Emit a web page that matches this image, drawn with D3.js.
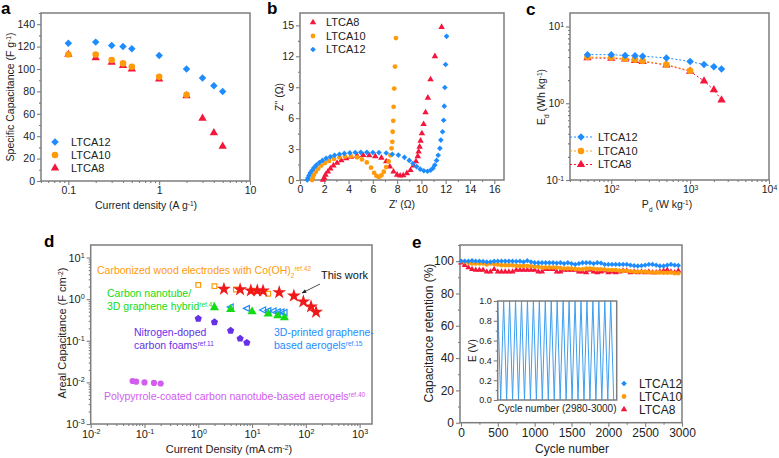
<!DOCTYPE html>
<html><head><meta charset="utf-8">
<script src="https://cdn.jsdelivr.net/npm/d3@7"></script>
<style>
body{margin:0;background:#fff;}
svg{font-family:"Liberation Sans",Arial,sans-serif;}
</style></head><body>
<div id="fig"></div>
<script>
// ---- panel a: specific capacitance vs current density
const aCurrent = [0.1, 0.2, 0.3, 0.4, 0.5, 1, 2, 3, 4, 5];
const aLTCA12 = [123, 124, 121, 120, 118, 112, 100, 92, 85, 80];
const aCurrent10 = [0.1, 0.2, 0.3, 0.4, 0.5, 1, 2];
const aLTCA10 = [113, 113, 108, 105, 102, 93, 77];
const aLTCA8 = [113, 110, 106, 103, 100, 91, 76, 56, 43, 31];

// ---- panel b: Nyquist plots
const bRe12 = [0.6,0.65,0.75,0.85,1.0,1.15,1.35,1.6,1.85,2.15,2.5,2.85,3.25,3.65,4.1,4.55,5.0,5.5,6.0,6.5,7.1,7.6,8.1,8.6,9.0,9.3,9.6,9.9,10.2,10.5,10.75,10.95,11.1,11.25,11.38,11.52,11.6,11.74,11.83,11.88,11.93,11.99,12.07];
const bIm12 = [0,0.2,0.45,0.7,0.95,1.2,1.45,1.7,1.9,2.1,2.25,2.4,2.5,2.58,2.63,2.67,2.68,2.68,2.67,2.66,2.62,2.5,2.42,2.2,1.9,1.6,1.3,1.05,0.9,0.85,0.95,1.15,1.45,1.9,2.4,3.07,3.87,4.68,5.8,7.16,8.97,11.2,13.94];
const bRe10 = [1.0,1.05,1.15,1.3,1.5,1.75,2.05,2.4,2.8,3.25,3.7,4.2,4.7,5.1,5.5,5.85,6.1,6.3,6.5,6.7,6.9,7.1,7.3,7.45,7.54,7.6,7.63,7.68,7.71,7.76,7.82,7.9];
const bIm10 = [0,0.2,0.5,0.8,1.1,1.4,1.65,1.85,2.05,2.2,2.28,2.3,2.2,2.0,1.7,1.2,0.7,0.4,0.3,0.45,0.8,1.25,1.8,2.4,3.07,3.7,4.68,5.74,7.1,8.87,11.0,13.77];
const bRe8 = [1.9,2.0,2.1,2.3,2.5,2.75,3.05,3.4,3.8,4.2,4.7,5.2,5.7,6.2,6.7,7.1,7.4,7.7,8.0,8.25,8.5,8.8,9.1,9.35,9.55,9.7,9.77,9.85,9.93,10.04,10.18,10.34,10.53,10.75,11.11,11.66];
const bIm8 = [0,0.2,0.5,0.8,1.1,1.4,1.65,1.9,2.1,2.25,2.35,2.4,2.38,2.3,2.15,1.8,1.3,0.8,0.5,0.42,0.45,0.65,0.95,1.4,1.8,2.3,2.74,3.22,3.8,4.52,5.42,6.55,7.97,9.75,12.0,14.84];

// ---- panel c: Ragone plot
const cPower = [50, 100, 150, 200, 250, 500, 1000, 1500, 2000, 2500];
const cPower10 = [50, 100, 150, 200, 250, 500, 1000];
const cLTCA12 = [4.3, 4.3, 4.2, 4.15, 4.1, 3.9, 3.5, 3.2, 3.0, 2.8];
const cLTCA10 = [4.0, 3.95, 3.8, 3.7, 3.55, 3.2, 2.65];
const cLTCA8 = [3.9, 3.85, 3.75, 3.6, 3.5, 3.15, 2.6, 1.95, 1.5, 1.1];

// ---- panel d: areal capacitance comparison
const dWorkX = [3, 6, 9.5, 12.5, 16, 32, 60, 90, 125, 155];
const dWorkY = [1.75, 1.7, 1.6, 1.6, 1.58, 1.45, 1.2, 0.87, 0.66, 0.49];
const dWoodX = [1, 2, 5, 10, 20];
const dWoodY = [2.2, 2.05, 1.7, 1.6, 1.35];
const dCntX = [2, 4, 10, 20, 30, 40];
const dCntY = [0.63, 0.57, 0.5, 0.44, 0.4, 0.36];
const dPrintX = [4, 8, 16, 20, 25, 30, 35, 40];
const dPrintY = [0.65, 0.6, 0.55, 0.53, 0.52, 0.5, 0.49, 0.48];
const dNdopX = [1, 2, 4, 6, 8];
const dNdopY = [0.34, 0.28, 0.175, 0.113, 0.09];
const dPpyX = [0.06, 0.07, 0.1, 0.15, 0.2];
const dPpyY = [0.0108, 0.0104, 0.01, 0.0097, 0.0094];

// ---- panel e: cycling stability
const eCycle = [0,50,100,150,200,250,300,350,400,450,500,550,600,650,700,750,800,850,900,950,
  1000,1050,1100,1150,1200,1250,1300,1350,1400,1450,1500,1550,1600,1650,1700,1750,1800,1850,1900,1950,
  2000,2050,2100,2150,2200,2250,2300,2350,2400,2450,2500,2550,2600,2650,2700,2750,2800,2850,2900,2950];
const eLTCA12 = [100,100,100,100.3,100,100,99.8,99.5,99.5,100, 100,100,100,100,100,99.8,100,99.5,100.3,99.5,
  99,99,99,99,99,99,98.8,99,98.5,99, 98.5,98,98.5,99,99,99,98.5,99,98.8,98,
  98,98,98,98,98,98,97.5,97.2,97,97.2, 97.5,98,98,97.5,97,97,97.5,98,97.5,97.3];
const eLTCA10 = [100,99.5,99,98.5,98.5,98.5,98.5,98,98.5,98.3, 98,97.5,97.5,97.5,97.5,97.2,97,97,97,96.8,
  96.5,96.5,96,96,96,96,96,95.8,95.5,95.5, 95.5,95.2,95,95,95.5,95.5,95.3,95,95,94.8,
  94.5,94.5,94.5,94,94,94,93.8,93.5,93.5,93.5, 93.5,93.2,93,93,93,92.8,92.8,93,92.5,92.5];
const eLTCA8 = [99,97.5,96,95,94.5,94.5,94.5,93.5,93.5,95, 93.5,93.5,93.5,93.5,93.5,94.5,94.5,94.5,94.5,94.5,
  94.5,93.5,93.5,95,95,95,93.5,93.5,94.5,94.5, 94.5,94.5,93.5,93.5,93,94.5,93.5,93,93.5,94,
  93,93.5,93,93.5,94,94,93,93.5,93,93.5, 93,93.5,93,93,93.5,94,94.5,93.5,93,94];
// inset: galvanostatic charge/discharge over cycles 2980-3000
const insetT = [2980,2980.5,2981,2981.5,2982,2982.5,2983,2983.5,2984,2984.5,2985,2985.5,2986,2986.5,2987,2987.5,
  2988,2988.5,2989,2989.5,2990,2990.5,2991,2991.5,2992,2992.5,2993,2993.5,2994,2994.5,2995,2995.5,
  2996,2996.5,2997,2997.5,2998,2998.5,2999,2999.5];
const insetE = [1,0,1,0,1,0,1,0,1,0,1,0,1,0,1,0,1,0,1,0,1,0,1,0,1,0,1,0,1,0,1,0,1,0,1,0,1,0,1,0];

const cBlue = "#1e8cff", cOrange = "#ff9a0a", cRed = "#f5163c",
      cGreen = "#14dc14", cPurple = "#6630e8", cMagenta = "#d35cf0", cFrame = "#7d7d7d";

const svg = d3.select("#fig").append("svg").attr("width", 779).attr("height", 458);

// symbols
const symDiamond = {draw(c, s) { const r = Math.sqrt(s / 2); c.moveTo(0, -r); c.lineTo(r, 0); c.lineTo(0, r); c.lineTo(-r, 0); c.closePath(); }};
const symTriLeft = {draw(c, s) { const r = Math.sqrt(s / 1.2); c.moveTo(-r * 0.8, 0); c.lineTo(r * 0.6, -r * 0.7); c.lineTo(r * 0.6, r * 0.7); c.closePath(); }};
const symPent = {draw(c, s) {
  const r = Math.sqrt(s / 2.38);
  for (let i = 0; i < 5; i++) {
    const a = -Math.PI / 2 + i * 2 * Math.PI / 5;
    if (i) c.lineTo(r * Math.cos(a), r * Math.sin(a)); else c.moveTo(r * Math.cos(a), r * Math.sin(a));
  }
  c.closePath();
}};

function rich(t, parts, fs) {
  parts.forEach(p => {
    const s = t.append("tspan").text(p[0]);
    if (p[1] === "sup") s.attr("baseline-shift", "super").attr("font-size", fs * 0.62);
    if (p[1] === "sub") s.attr("baseline-shift", "sub").attr("font-size", fs * 0.62);
  });
  return t;
}

function label(x, y, parts, fs, opts) {
  opts = opts || {};
  const t = svg.append("text").attr("x", x).attr("y", y).attr("font-size", fs)
    .attr("fill", opts.fill || "#222").attr("text-anchor", opts.anchor || "start");
  if (opts.rotate) t.attr("transform", `rotate(-90,${x},${y})`);
  if (opts.bold) t.attr("font-weight", "bold");
  return rich(t, parts, fs);
}

function axis(orient, scale, pos, major, minor, fs, fmt) {
  const mk = orient === "b" ? d3.axisBottom : d3.axisLeft;
  const tr = orient === "b" ? `translate(0,${pos})` : `translate(${pos},0)`;
  const gm = svg.append("g").attr("transform", tr).call(mk(scale).tickValues(minor).tickSize(2).tickFormat(""));
  const gM = svg.append("g").attr("transform", tr).call(mk(scale).tickValues(major).tickSize(4).tickPadding(2).tickFormat(""));
  [gm, gM].forEach(a => {
    a.select(".domain").remove();
    a.selectAll("line").attr("stroke", cFrame).attr("stroke-width", 1.1);
  });
  gM.selectAll(".tick text").each(function(d) {
    const t = d3.select(this).attr("font-size", fs).attr("fill", "#222")
      .attr("font-family", '"Liberation Sans",Arial,sans-serif');
    fmt(t, d);
  });
}
const plain = (t, d) => t.text(d);
const logFmt = fs => (t, d) => {
  t.text("10");
  t.append("tspan").attr("baseline-shift", "super").attr("font-size", fs * 0.65).text(Math.round(Math.log10(d)));
};
function box(x0, x1, y0, y1) {
  svg.append("rect").attr("x", x0).attr("y", y0).attr("width", x1 - x0).attr("height", y1 - y0)
    .attr("fill", "none").attr("stroke", cFrame).attr("stroke-width", 1.5);
}
function pts(xs, ys, xv, yv, sym, size, fill, stroke) {
  svg.append("g").selectAll("path").data(xv.map((v, i) => [v, yv[i]])).join("path")
    .attr("transform", d => `translate(${xs(d[0])},${ys(d[1])})`)
    .attr("d", d3.symbol(sym, size)())
    .attr("fill", fill).attr("stroke", stroke || "none").attr("stroke-width", 1.2);
}
function legendItem(x, y, tx, text, sym, size, col, fs, line) {
  if (line) svg.append("line").attr("x1", line[0]).attr("x2", line[1]).attr("y1", y).attr("y2", y)
    .attr("stroke", col).attr("stroke-width", 1).attr("stroke-dasharray", "2,2");
  svg.append("path").attr("transform", `translate(${x},${y})`).attr("d", d3.symbol(sym, size)()).attr("fill", col);
  svg.append("text").attr("x", tx).attr("y", y + fs * 0.36).attr("font-size", fs).attr("fill", "#222").text(text);
}
const range = (a, b, s) => d3.range(a, b + s / 2, s);

// ================= panel a
{
  const x = d3.scaleLog().domain([0.05, 10]).range([41, 250]);
  const y = d3.scaleLinear().domain([0, 150]).range([181, 13]);
  const minor = [0.05,0.06,0.07,0.08,0.09,0.2,0.3,0.4,0.5,0.6,0.7,0.8,0.9,2,3,4,5,6,7,8,9];
  axis("b", x, 181, [0.1, 1, 10], minor, 10.5, plain);
  axis("l", y, 41, range(0, 140, 20), range(10, 150, 20), 10.5, plain);
  box(41, 250, 13, 181);
  pts(x, y, aCurrent, aLTCA8, d3.symbolTriangle, 30, cRed);
  pts(x, y, aCurrent10, aLTCA10, d3.symbolCircle, 34, cOrange);
  pts(x, y, aCurrent, aLTCA12, symDiamond, 28, cBlue);
  legendItem(55, 142, 71, "LTCA12", symDiamond, 28, cBlue, 11);
  legendItem(55, 155, 71, "LTCA10", d3.symbolCircle, 34, cOrange, 11);
  legendItem(55, 168, 71, "LTCA8", d3.symbolTriangle, 30, cRed, 11);
  label(146, 209, [["Current density (A g"], ["-1", "sup"], [")"]], 10.5, {anchor: "middle"});
  label(14, 97, [["Specific Capacitance (F g"], ["-1", "sup"], [")"]], 10.5, {anchor: "middle", rotate: true});
  label(1, 14, [["a"]], 17, {bold: true, fill: "#000"});
}

// ================= panel b
{
  const x = d3.scaleLinear().domain([0, 16.8]).range([300, 504]);
  const y = d3.scaleLinear().domain([0, 16.2]).range([180, 13]);
  axis("b", x, 180, range(0, 16, 2), range(1, 15, 2), 10.5, plain);
  axis("l", y, 300, range(0, 15, 3), range(1.5, 15, 3), 10.5, plain);
  box(300, 504, 13, 180);
  pts(x, y, bRe8, bIm8, d3.symbolTriangle, 18, cRed);
  pts(x, y, bRe10, bIm10, d3.symbolCircle, 18, cOrange);
  pts(x, y, bRe12, bIm12, symDiamond, 16, cBlue);
  legendItem(313, 22.5, 326, "LTCA8", d3.symbolTriangle, 18, cRed, 11);
  legendItem(313, 36, 326, "LTCA10", d3.symbolCircle, 18, cOrange, 11);
  legendItem(313, 49.5, 326, "LTCA12", symDiamond, 16, cBlue, 11);
  label(402, 208, [["Z' (\u03A9)"]], 10.5, {anchor: "middle"});
  label(283, 97, [["Z'' (\u03A9)"]], 10.5, {anchor: "middle", rotate: true});
  label(267, 14, [["b"]], 17, {bold: true, fill: "#000"});
}

// ================= panel c
{
  const x = d3.scaleLog().domain([30, 10000]).range([570, 769]);
  const y = d3.scaleLog().domain([0.1, 15]).range([180, 13]);
  const xminor = [30,40,50,60,70,80,90,200,300,400,500,600,700,800,900,2000,3000,4000,5000,6000,7000,8000,9000];
  const yminor = [0.2,0.3,0.4,0.5,0.6,0.7,0.8,0.9,2,3,4,5,6,7,8,9];
  axis("b", x, 180, [100, 1000, 10000], xminor, 10.5, logFmt(10.5));
  axis("l", y, 570, [0.1, 1, 10], yminor, 10.5, logFmt(10.5));
  box(570, 769, 13, 180);
  const series = [[cPower, cLTCA8, d3.symbolTriangle, 30, cRed], [cPower10, cLTCA10, d3.symbolCircle, 34, cOrange], [cPower, cLTCA12, symDiamond, 28, cBlue]];
  series.forEach(s => {
    svg.append("path").datum(s[0].map((v, i) => [v, s[1][i]]))
      .attr("d", d3.line().x(d => x(d[0])).y(d => y(d[1])))
      .attr("fill", "none").attr("stroke", s[4]).attr("stroke-width", 1).attr("stroke-dasharray", "2,2");
    pts(x, y, s[0], s[1], s[2], s[3], s[4]);
  });
  legendItem(581, 137, 598, "LTCA12", symDiamond, 28, cBlue, 11, [570, 592]);
  legendItem(581, 151, 598, "LTCA10", d3.symbolCircle, 34, cOrange, 11, [570, 592]);
  legendItem(581, 164.5, 598, "LTCA8", d3.symbolTriangle, 30, cRed, 11, [570, 592]);
  label(667, 208, [["P"], ["d", "sub"], [" (W kg"], ["-1", "sup"], [")"]], 10.5, {anchor: "middle"});
  label(545, 97, [["E"], ["d", "sub"], [" (Wh kg"], ["-1", "sup"], [")"]], 10.5, {anchor: "middle", rotate: true});
  label(526, 15, [["c"]], 17, {bold: true, fill: "#000"});
}

// ================= panel d
{
  const x = d3.scaleLog().domain([0.01, 1700]).range([90.7, 372]);
  const y = d3.scaleLog().domain([0.001, 20]).range([424, 245]);
  const xminor = [], yminor = [];
  [0.01, 0.1, 1, 10, 100, 1000].forEach(p => [2,3,4,5,6,7,8,9].forEach(k => { if (p * k < 1700) xminor.push(p * k); }));
  [0.001, 0.01, 0.1, 1, 10].forEach(p => [2,3,4,5,6,7,8,9].forEach(k => { if (p * k < 20) yminor.push(p * k); }));
  axis("b", x, 424, [0.01, 0.1, 1, 10, 100, 1000], xminor, 11, logFmt(11));
  axis("l", y, 90.7, [0.001, 0.01, 0.1, 1, 10], yminor, 11, logFmt(11));
  box(90.7, 372, 245, 424);
  pts(x, y, dPpyX, dPpyY, d3.symbolCircle, 30, cMagenta);
  pts(x, y, dNdopX, dNdopY, symPent, 34, cPurple);
  pts(x, y, dWoodX, dWoodY, d3.symbolSquare, 22, "none", cOrange);
  pts(x, y, dPrintX, dPrintY, symTriLeft, 22, "none", cBlue);
  pts(x, y, dCntX, dCntY, d3.symbolTriangle, 36, cGreen);
  pts(x, y, dWorkX, dWorkY, d3.symbolStar, 60, "#f01818");
  const fs = 10.5;
  label(97, 274, [["Carbonized wood electrodes with Co(OH)"], ["2", "sub"], ["ref.42", "sup"]], fs, {fill: cOrange});
  label(321, 279, [["This work"]], 11, {fill: "#111"});
  label(107, 297, [["Carbon nanotube/"]], fs, {fill: cGreen});
  label(107, 310, [["3D graphene hybrid"], ["ref.41", "sup"]], fs, {fill: cGreen});
  label(134, 336, [["Nitrogen-doped"]], fs, {fill: cPurple});
  label(134, 348.5, [["carbon foams"], ["ref.11", "sup"]], fs, {fill: cPurple});
  label(274, 335.5, [["3D-printed graphene-"]], fs, {fill: cBlue});
  label(274, 348.5, [["based aerogels"], ["ref.15", "sup"]], fs, {fill: cBlue});
  label(104, 400, [["Polypyrrole-coated carbon nanotube-based aerogels"], ["ref.40", "sup"]], fs, {fill: cMagenta});
  svg.append("defs").append("marker").attr("id", "arr").attr("viewBox", "0 0 10 10").attr("refX", 9).attr("refY", 5)
    .attr("markerWidth", 6).attr("markerHeight", 6).attr("orient", "auto")
    .append("path").attr("d", "M0,1 L10,5 L0,9 z").attr("fill", "#222");
  svg.append("line").attr("x1", 320).attr("y1", 284).attr("x2", 302).attr("y2", 293)
    .attr("stroke", "#222").attr("stroke-width", 0.8).attr("marker-end", "url(#arr)");
  label(229, 453, [["Current Density (mA cm"], ["-2", "sup"], [")"]], 11, {anchor: "middle"});
  label(66, 333, [["Areal Capacitance (F cm"], ["-2", "sup"], [")"]], 11, {anchor: "middle", rotate: true});
  label(44, 247, [["d"]], 17, {bold: true, fill: "#000"});
}

// ================= panel e
{
  const x = d3.scaleLinear().domain([0, 3000]).range([461, 682]);
  const y = d3.scaleLinear().domain([0, 110]).range([422.7, 245]);
  axis("b", x, 422.7, range(0, 3000, 500), range(250, 2750, 500), 12, plain);
  axis("l", y, 460, range(0, 100, 20), range(10, 110, 20), 12, plain);
  box(460, 682, 245, 422.7);
  pts(x, y, eCycle, eLTCA8, d3.symbolTriangle, 16, cRed);
  pts(x, y, eCycle, eLTCA10, d3.symbolCircle, 16, cOrange);
  pts(x, y, eCycle, eLTCA12, symDiamond, 14, cBlue);
  legendItem(624, 383.5, 639, "LTCA12", symDiamond, 16, cBlue, 12);
  legendItem(624, 396.5, 639, "LTCA10", d3.symbolCircle, 18, cOrange, 12);
  legendItem(624, 409.5, 639, "LTCA8", d3.symbolTriangle, 18, cRed, 12);
  label(572, 453, [["Cycle number"]], 12, {anchor: "middle"});
  label(433, 333, [["Capacitance retention (%)"]], 12, {anchor: "middle", rotate: true});
  label(412, 248, [["e"]], 17, {bold: true, fill: "#000"});

  // inset
  const xi = d3.scaleLinear().domain([2980, 3000]).range([497.7, 616.7]);
  const yi = d3.scaleLinear().domain([0, 1]).range([400, 301]);
  svg.append("rect").attr("x", 497.7).attr("y", 301).attr("width", 119).attr("height", 99).attr("fill", "#fff");
  axis("l", yi, 497.7, range(0, 1, 0.2), range(0.1, 0.9, 0.2), 9, (t, d) => t.text(d3.format(".1f")(d)));
  svg.append("path").datum(insetT.map((v, i) => [v, insetE[i]]))
    .attr("d", d3.line().x(d => xi(d[0])).y(d => yi(d[1])))
    .attr("fill", "none").attr("stroke", "#3f9ff0").attr("stroke-width", 1);
  box(497.7, 616.7, 301, 400);
  label(557, 411.5, [["Cycle number (2980-3000)"]], 10, {anchor: "middle"});
  label(476, 350.5, [["E (V)"]], 10, {anchor: "middle", rotate: true});
}
</script>
</body></html>
